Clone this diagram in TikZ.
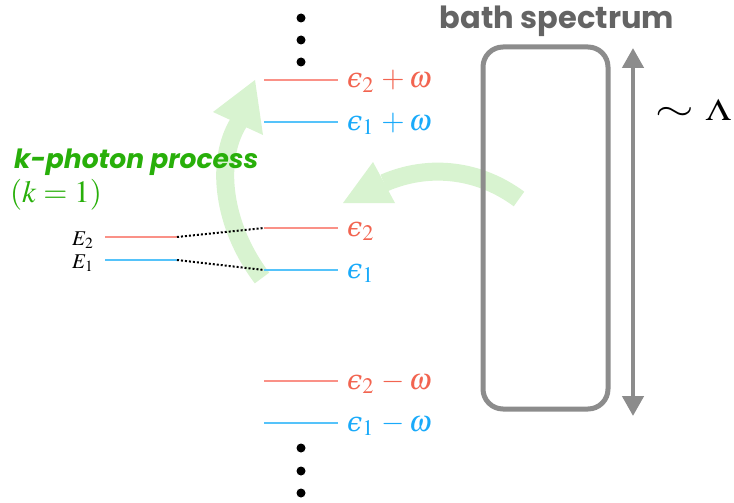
\documentclass[tikz,border=0pt]{standalone}
\usepackage{mathptmx}
\usepackage{fontspec}
\usetikzlibrary{arrows.meta}
\newfontfamily\popfont{Poppins}
\newfontfamily\epsfont{DejaVu Serif}
\definecolor{lvred}{RGB}{250,145,135}
\definecolor{lvblue}{RGB}{85,195,250}
\definecolor{txred}{RGB}{242,100,80}
\definecolor{txblue}{RGB}{25,170,250}
\definecolor{bgreen}{RGB}{216,243,208}
\definecolor{kgreen}{RGB}{40,175,10}
\definecolor{boxgray}{RGB}{140,140,140}
\definecolor{txgray}{RGB}{100,100,100}
\newcommand{\eps}{{\mbox{\epsfont\itshape\fontsize{27}{30}\selectfont\char"03F5}}}
\begin{document}
\begin{tikzpicture}[x=1pt,y=-1pt,
  redlvl/.style={draw=lvred,line width=2.5pt},
  bluelvl/.style={draw=lvblue,line width=2.5pt},
  redlab/.style={text=txred,anchor=base west,inner sep=0pt,font=\fontsize{30}{34}\selectfont},
  bluelab/.style={text=txblue,anchor=base west,inner sep=0pt,font=\fontsize{30}{34}\selectfont},
  vdot/.style={circle,fill=black,inner sep=0pt,minimum size=9pt},
  bigarrow/.style={draw=bgreen,line width=18pt},
  arrowhead/.style={fill=bgreen},
  dotline/.style={black,dotted,line width=2pt},
]
\useasboundingbox (0,0) rectangle (734,503);
% green arrows
\draw[bigarrow] (262,278) .. controls (222,225) and (215,160) .. (239,122);
\fill[arrowhead] (255,80) -- (213,112) -- (263,135) -- cycle;
\draw[bigarrow] (519,199) .. controls (480,170) and (430,163) .. (384,183);
\fill[arrowhead] (343,203) -- (373,162) -- (395,203) -- cycle;
% dots
\node[vdot] (d1) at (301,18) {};
\node[vdot] (d2) at (301,40) {};
\node[vdot] (d3) at (301,62) {};
\node[vdot] (d4) at (301,448) {};
\node[vdot] (d5) at (301,471) {};
\node[vdot] (d6) at (301,493) {};
% levels
\coordinate (a1) at (264,80);  \coordinate (a2) at (338,80);
\coordinate (b1) at (264,122); \coordinate (b2) at (338,122);
\coordinate (c1) at (264,228); \coordinate (c2) at (338,228);
\coordinate (e1) at (264,270); \coordinate (e2) at (338,270);
\coordinate (f1) at (264,381); \coordinate (f2) at (338,381);
\coordinate (g1) at (264,423); \coordinate (g2) at (338,423);
\coordinate (h1) at (105,237); \coordinate (h2) at (177,237);
\coordinate (i1) at (105,260); \coordinate (i2) at (177,260);
\draw[redlvl] (a1) -- (a2);
\draw[bluelvl] (b1) -- (b2);
\draw[redlvl] (c1) -- (c2);
\draw[bluelvl] (e1) -- (e2);
\draw[redlvl] (f1) -- (f2);
\draw[bluelvl] (g1) -- (g2);
\draw[redlvl] (h1) -- (h2);
\draw[bluelvl] (i1) -- (i2);
\draw[dotline] (h2) -- (c1);
\draw[dotline] (i2) -- (e1);
% level labels
\node[redlab] (la) at (347,88) {$\eps_2\,+\omega$};
\node[bluelab] (lb) at (347,130) {$\eps_1\,+\omega$};
\node[redlab] (lc) at (347,236) {$\eps_2$};
\node[bluelab] (le) at (347,278) {$\eps_1$};
\node[redlab] (lf) at (347,389) {$\eps_2\,-\omega$};
\node[bluelab] (lg) at (347,431) {$\eps_1\,-\omega$};
\node[anchor=base west,inner sep=0pt,font=\fontsize{21}{22}\selectfont] (lh) at (72,245) {$E_2$};
\node[anchor=base west,inner sep=0pt,font=\fontsize{21}{22}\selectfont] (li) at (72,268) {$E_1$};
% k-photon
\node[anchor=base west,inner sep=0pt,text=kgreen,font=\popfont\bfseries\itshape\fontsize{26.5}{30}\selectfont] (kp) at (14,168) {k-photon process};
\node[anchor=base west,inner sep=0pt,text=kgreen,font=\fontsize{31}{34}\selectfont] (kk) at (10,202) {$(k=1)$};
% bath
\draw[boxgray,line width=5pt,rounded corners=20pt] (483,47) rectangle (608,409);
\coordinate (ar1) at (633,48);
\coordinate (ar2) at (633,416);
\draw[boxgray,line width=4.5pt,{Triangle[length=20pt,width=21pt]}-{Triangle[length=20pt,width=21pt]}] (ar1) -- (ar2);
\node[anchor=base,inner sep=0pt,text=txgray,font=\popfont\bfseries\fontsize{30.5}{34}\selectfont] (bs) at (557,29) {bath spectrum};
\node[anchor=base west,inner sep=0pt,font=\fontsize{31}{34}\selectfont] (lam) at (655,121) {\scalebox{1.6}[1.15]{$\sim$}\hspace{12pt}\scalebox{1.2}[1]{$\Lambda$}};
\end{tikzpicture}
\end{document}
